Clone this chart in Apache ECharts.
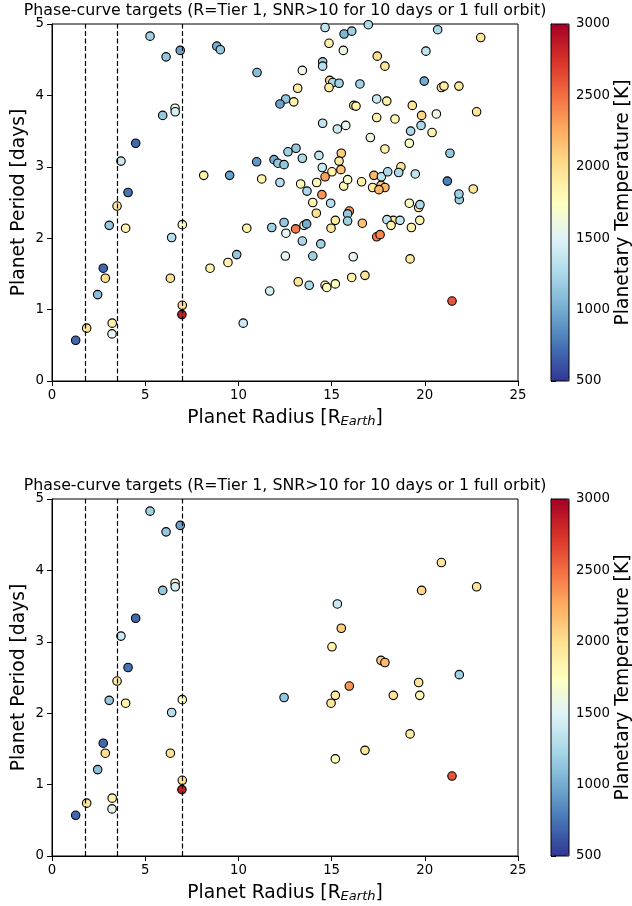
<!DOCTYPE html>
<html>
<head>
<meta charset="utf-8">
<script src="https://cdn.jsdelivr.net/npm/echarts@6/dist/echarts.min.js"></script>
<style>
  html, body { margin: 0; padding: 0; background: #fff; }
  #chart { width: 632px; height: 906px; }
</style>
</head>
<body>
<div id="chart"></div>
<script>
// Planet radius [R_Earth]
const radius = [
  5.26, 6.88, 6.12, 6.60, 6.61, 5.94, 4.49, 3.70, 4.08, 3.49, 3.07, 3.95,
  6.99, 6.42, 6.35, 2.86, 2.75, 2.45, 6.99, 6.97, 3.23, 3.22, 1.86, 1.27,
  15.31, 15.52, 15.02, 15.95, 12.45, 15.20, 14.97, 16.79, 15.20, 20.89,
  19.83, 22.78, 17.65, 17.86, 21.85, 19.67, 18.31, 19.73, 19.21, 21.46,
  8.14, 8.48, 14.65, 15.67, 16.08, 8.84, 9.03, 14.86, 15.63, 11.00, 13.43,
  14.52, 14.52, 14.90, 15.06, 15.40, 14.86, 16.52, 13.18, 12.54, 12.23,
  12.97, 16.19, 16.31, 14.52, 15.76, 10.98, 11.91, 12.12, 12.45, 12.66,
  13.09, 13.43, 14.32, 15.40, 15.50, 14.50, 14.65, 9.53, 11.25, 12.23,
  13.34, 13.68, 14.20, 14.48, 15.65, 15.86, 16.61, 13.99, 14.95, 16.97,
  20.69, 23.00, 17.45, 17.86, 20.06, 19.97, 21.03, 21.83, 17.42, 17.96,
  19.33, 20.62, 17.42, 18.40, 19.24, 19.80, 20.39, 17.08, 17.86, 19.17,
  21.35, 18.72, 17.27, 17.67, 18.01, 18.60, 19.49, 17.20, 17.54, 21.21,
  21.83, 22.60, 19.17, 19.74, 15.86, 14.18, 10.45, 11.79, 12.55, 13.07,
  13.52, 13.66, 13.43, 14.42, 15.86, 16.65, 9.91, 9.44, 12.52, 13.99,
  16.16, 11.68, 13.21, 13.80, 14.65, 14.74, 16.08, 10.26, 17.97, 18.19,
  18.67, 19.28, 17.42, 17.60
];

// Orbital period [days]
const period = [
  4.83, 4.63, 4.54, 3.82, 3.77, 3.72, 3.33, 3.08, 2.64, 2.45, 2.18, 2.14,
  2.19, 2.01, 1.44, 1.44, 1.58, 1.21, 1.06, 0.93, 0.81, 0.66, 0.74, 0.57,
  3.53, 3.19, 2.93, 2.38, 2.22, 2.25, 2.14, 1.48, 1.36, 4.11,
  3.72, 3.77, 2.74, 2.71, 2.54, 2.43, 2.25, 2.25, 1.71, 1.12,
  2.88, 1.58, 4.95, 4.86, 4.90, 4.69, 4.64, 4.73, 4.63, 4.32, 4.35,
  4.47, 4.41, 4.21, 4.18, 4.17, 4.11, 4.16, 4.10, 3.95, 3.88,
  3.91, 3.86, 3.85, 3.61, 3.58, 3.07, 3.10, 3.05, 3.03, 3.21,
  3.26, 3.12, 3.16, 3.08, 2.96, 2.99, 2.86, 2.88, 2.83, 2.78,
  2.76, 2.66, 2.78, 2.61, 2.73, 2.82, 2.79, 2.50, 2.49, 4.99,
  4.92, 4.81, 4.55, 4.41, 4.62, 4.20, 4.13, 4.13, 3.95, 3.92,
  3.86, 3.74, 3.69, 3.67, 3.50, 3.58, 3.48, 3.41, 3.25, 3.33,
  3.19, 3.00, 2.88, 2.86, 2.93, 2.92, 2.90, 2.71, 2.68, 2.80,
  2.62, 2.69, 2.49, 2.47, 2.34, 2.35, 2.14, 2.15, 2.07, 2.13,
  2.18, 2.20, 1.96, 1.92, 2.24, 2.21, 1.77, 1.66, 1.75, 1.75,
  1.74, 1.26, 1.39, 1.34, 1.34, 1.31, 1.45, 0.81, 2.26, 2.18,
  2.25, 2.15, 2.02, 2.05
];

// Planetary temperature [K]
const tempK = [
  1200, 950, 1150, 1650, 1450, 1150, 700, 1400, 750, 1900, 1150, 1850,
  1750, 1300, 2000, 2000, 700, 1100, 2000, 2850, 1850, 1550, 1950, 700,
  1400, 2100, 1850, 2350, 1150, 1900, 1950, 1950, 1750, 1950,
  2050, 1950, 2100, 2200, 1200, 1950, 1950, 1800, 1900, 2600,
  1850, 1850, 1350, 1050, 1200, 1000, 1150, 1850, 1600, 1100, 1600,
  1200, 1300, 2050, 1250, 1200, 1900, 1200, 1900, 1150, 950,
  1850, 1950, 1850, 1350, 1550, 900, 1000, 1150, 1150, 1200,
  1150, 1250, 1350, 1900, 2150, 1400, 2300, 950, 1850, 1300,
  1800, 1250, 1800, 2350, 1800, 1700, 1850, 1850, 1300, 1250,
  1250, 1950, 2000, 1950, 1350, 1000, 1900, 1900, 1400, 1850,
  1950, 1600, 1850, 1800, 1250, 1250, 1850, 1600, 1850, 1700,
  1150, 1950, 2200, 1350, 1250, 1250, 1350, 1900, 2200, 800,
  1200, 1950, 1750, 1250, 1150, 2000, 1850, 1200, 1550, 2450,
  1600, 1000, 1250, 1200, 1200, 2150, 1150, 1850, 1550, 1200,
  1550, 1450, 1950, 1250, 1800, 1750, 1850, 1400, 1350, 1850,
  1350, 1850, 2450, 2400
];

// 1 = target kept in the phase-curve selection (lower panel)
const phaseCurve = [
  1, 1, 1, 1, 1, 1, 1, 1, 1, 1, 1, 1,
  1, 1, 1, 1, 1, 1, 1, 1, 1, 1, 1, 1,
  1, 1, 1, 1, 1, 1, 1, 1, 1, 1,
  1, 1, 1, 1, 1, 1, 1, 1, 1, 1,
  0, 0, 0, 0, 0, 0, 0, 0, 0, 0, 0,
  0, 0, 0, 0, 0, 0, 0, 0, 0, 0,
  0, 0, 0, 0, 0, 0, 0, 0, 0, 0,
  0, 0, 0, 0, 0, 0, 0, 0, 0, 0,
  0, 0, 0, 0, 0, 0, 0, 0, 0, 0,
  0, 0, 0, 0, 0, 0, 0, 0, 0, 0,
  0, 0, 0, 0, 0, 0, 0, 0, 0, 0,
  0, 0, 0, 0, 0, 0, 0, 0, 0, 0,
  0, 0, 0, 0, 0, 0, 0, 0, 0, 0,
  0, 0, 0, 0, 0, 0, 0, 0, 0, 0,
  0, 0, 0, 0, 0, 0, 0, 0, 0, 0,
  0, 0, 0, 0
];

// Radius boundaries drawn as dashed vertical lines
const radiusCuts = [1.8, 3.5, 7];

const titleText = 'Phase-curve targets (R=Tier 1, SNR>10 for 10 days or 1 full orbit)';
const tempRange = [500, 3000];
// RdYlBu, reversed (blue = cool, red = hot)
const rdylbuR = ['#313695', '#4575b4', '#74add1', '#abd9e9', '#e0f3f8', '#ffffbf',
                 '#fee090', '#fdae61', '#f46d43', '#d73027', '#a50026'];

const FONT = 'DejaVu Sans';
const allPoints = radius.map((r, i) => [r, period[i], tempK[i]]);
const phasePoints = allPoints.filter((p, i) => phaseCurve[i] === 1);

const PLOT_LEFT = 52, PLOT_W = 466, PLOT_H = 357;
const CBAR_LEFT = 551, CBAR_W = 18;
const panelTops = [24, 499];

const black = '#000';
const TICK_FS = 13.3, LABEL_FS = 18.7, TITLE_FS = 15.8;
const tickLabel = { color: black, fontSize: TICK_FS, fontFamily: FONT };
const tickStyle = { show: true, inside: false, length: 5, lineStyle: { color: black, width: 1 } };

function mainX(gi) {
  return {
    gridIndex: gi, type: 'value', min: 0, max: 25, interval: 5,
    axisLine: { show: true, onZero: false, lineStyle: { color: black, width: 1 } },
    axisTick: tickStyle,
    axisLabel: Object.assign({ margin: 8 }, tickLabel),
    splitLine: { show: false },
    name: 'Planet Radius [R{e|Earth}]',
    nameLocation: 'middle', nameGap: 28,
    nameTextStyle: {
      color: black, fontSize: LABEL_FS, fontFamily: FONT, lineHeight: 19,
      rich: { e: { fontSize: 13, fontStyle: 'italic', fontFamily: FONT, color: black,
                   lineHeight: 8, verticalAlign: 'bottom' } }
    }
  };
}
function mainY(gi) {
  return {
    gridIndex: gi, type: 'value', min: 0, max: 5, interval: 1,
    axisLine: { show: true, onZero: false, lineStyle: { color: black, width: 1 } },
    axisTick: tickStyle,
    axisLabel: Object.assign({ margin: 8 }, tickLabel),
    splitLine: { show: false },
    name: 'Planet Period [days]', nameLocation: 'middle', nameGap: 23,
    nameMoveOverlap: false,
    nameTextStyle: { color: black, fontSize: LABEL_FS, fontFamily: FONT }
  };
}
function cbarX(gi) {
  return { gridIndex: gi, type: 'value', min: 0, max: 1, show: false };
}
function cbarY(gi) {
  return {
    gridIndex: gi, type: 'value', position: 'right',
    min: tempRange[0], max: tempRange[1], interval: 500,
    axisLine: { show: true, lineStyle: { color: black, width: 1 } },
    axisTick: tickStyle,
    axisLabel: Object.assign({ margin: 7, formatter: v => String(v) }, tickLabel),
    splitLine: { show: false },
    name: 'Planetary Temperature [K]', nameLocation: 'middle', nameGap: 44, nameRotate: 90,
    nameTextStyle: { color: black, fontSize: LABEL_FS, fontFamily: FONT }
  };
}

function scatter(gi, data) {
  return {
    type: 'scatter', xAxisIndex: gi, yAxisIndex: gi, data: data,
    symbol: 'circle', symbolSize: 8.5, silent: true,
    itemStyle: { borderColor: black, borderWidth: 1.1, opacity: 1 },
    markLine: {
      silent: true, symbol: ['none', 'none'], label: { show: false },
      lineStyle: { color: black, type: [5, 2.5], width: 1.2 },
      data: radiusCuts.map(v => ({ xAxis: v }))
    }
  };
}

function colorbar(si, top) {
  return {
    type: 'continuous', seriesIndex: si, dimension: 2,
    min: tempRange[0], max: tempRange[1],
    left: CBAR_LEFT, top: top, itemWidth: CBAR_W, itemHeight: PLOT_H,
    padding: 0, text: null, showLabel: false, calculable: false, hoverLink: false,
    inRange: { color: rdylbuR }
  };
}

function grid(left, top, width, z) {
  return {
    left: left, top: top, width: width, height: PLOT_H,
    show: true, borderColor: black, borderWidth: 1, backgroundColor: 'transparent',
    containLabel: false, outerBoundsMode: 'none', z: z
  };
}

const chart = echarts.init(document.getElementById('chart'), null, { renderer: 'canvas' });
chart.setOption({
  backgroundColor: '#fff',
  animation: false,
  textStyle: { fontFamily: FONT },
  grid: [
    grid(PLOT_LEFT, panelTops[0], PLOT_W, 0),
    grid(PLOT_LEFT, panelTops[1], PLOT_W, 0),
    grid(CBAR_LEFT, panelTops[0], CBAR_W, 10),
    grid(CBAR_LEFT, panelTops[1], CBAR_W, 10)
  ],
  xAxis: [mainX(0), mainX(1), cbarX(2), cbarX(3)],
  yAxis: [mainY(0), mainY(1), cbarY(2), cbarY(3)],
  visualMap: [colorbar(0, panelTops[0]), colorbar(1, panelTops[1])],
  series: [scatter(0, allPoints), scatter(1, phasePoints)],
  graphic: panelTops.map(t => ({
    type: 'text', x: PLOT_LEFT + PLOT_W / 2, y: t - 13,
    style: { text: titleText, fill: black, font: TITLE_FS + 'px "DejaVu Sans"', textAlign: 'center', textVerticalAlign: 'middle' }
  }))
});
</script>
</body>
</html>
